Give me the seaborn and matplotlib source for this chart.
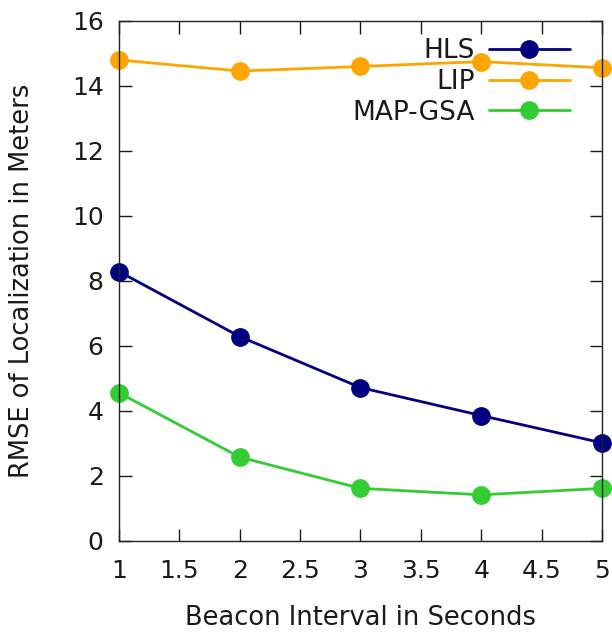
import pandas as pd
import seaborn as sns
import matplotlib.pyplot as plt

intervals = [1, 2, 3, 4, 5]
hls = [8.29, 6.29, 4.72, 3.86, 3.02]
lip = [14.80, 14.46, 14.60, 14.75, 14.56]
map_gsa = [4.56, 2.58, 1.62, 1.42, 1.62]

methods = ['HLS', 'LIP', 'MAP-GSA']
colors = ['#000080', '#FFA500', '#32CD32']

df = pd.DataFrame({
    'Interval': intervals * 3,
    'RMSE': hls + lip + map_gsa,
    'Method': [m for m in methods for _ in intervals],
})

sns.set_style('ticks')
plt.rcParams['font.family'] = ['DejaVu Sans']

fig = plt.figure(figsize=(6.12, 6.32), dpi=100)
ax = fig.add_axes([0.1944, 0.144, 0.7893, 0.8228])

sns.lineplot(data=df, x='Interval', y='RMSE', hue='Method', palette=colors,
             marker='o', markersize=13.5, markeredgewidth=0, linewidth=2,
             ax=ax)

ax.set_xlim(1, 5)
ax.set_ylim(0, 16)
ax.set_xticks([1, 1.5, 2, 2.5, 3, 3.5, 4, 4.5, 5])
ax.set_xticklabels(['1', '1.5', '2', '2.5', '3', '3.5', '4', '4.5', '5'])
ax.set_yticks(range(0, 17, 2))
ax.tick_params(direction='in', length=9, width=1, labelsize=18,
               top=True, right=True, colors='#1a1a1a')
ax.tick_params(axis='x', pad=13)
ax.tick_params(axis='y', pad=11)
for s in ax.spines.values():
    s.set_linewidth(1)
    s.set_color('#222222')
ax.set_xlabel('Beacon Interval in Seconds', fontsize=18.5, color='#1a1a1a')
ax.set_ylabel('RMSE of Localization in Meters', fontsize=18.5, color='#1a1a1a')
ax.xaxis.set_label_coords(0.5, -0.123)
ax.yaxis.set_label_coords(-0.174, 0.5)

for line in ax.lines:
    line.set_clip_on(False)

leg = ax.legend(loc='upper right', bbox_to_anchor=(570 / 612, 1 - 38 / 632),
                bbox_transform=fig.transFigure, frameon=False,
                markerfirst=False, fontsize=19, handlelength=3.07,
                labelspacing=0.18, handletextpad=0.53,
                borderpad=0, borderaxespad=0)
for t in leg.get_texts():
    t.set_ha('right')
    t.set_color('#1a1a1a')
leg._legend_box.align = 'right'

fig.savefig('out.png', dpi=100)
